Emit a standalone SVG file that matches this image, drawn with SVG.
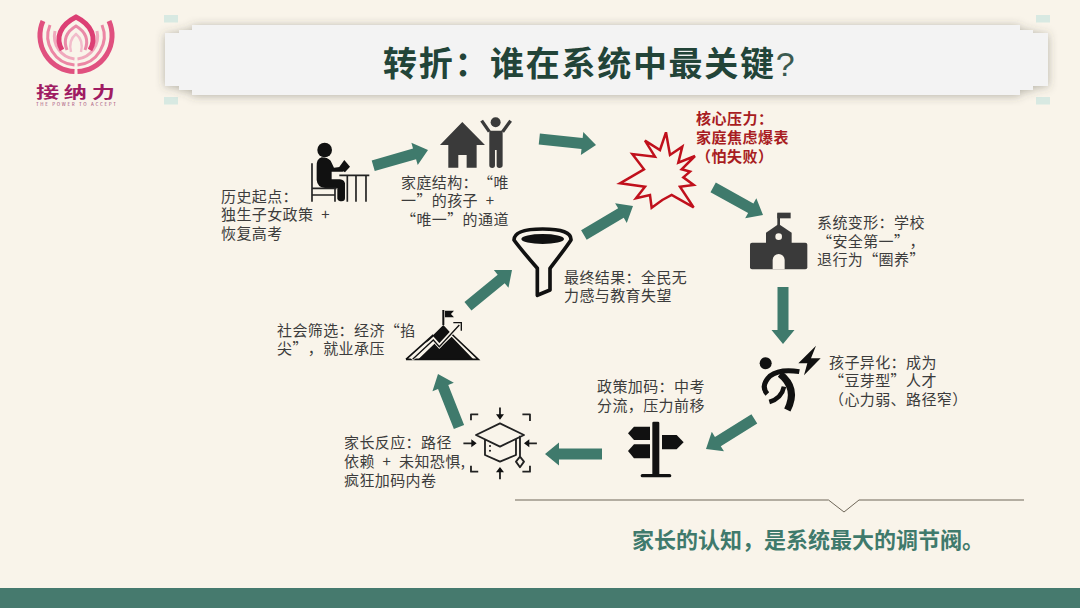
<svg xmlns="http://www.w3.org/2000/svg" xmlns:xlink="http://www.w3.org/1999/xlink" width="1080" height="608" viewBox="0 0 1080 608">
<defs>
<filter id="sh" x="-5%" y="-30%" width="110%" height="160%"><feDropShadow dx="0" dy="1" stdDeviation="5" flood-color="#4a4a3a" flood-opacity=".38"/></filter>
<polygon id="ah" points="-57,-5.500 -14,-5.500 -14,-11.500 0,0 -14,11.500 -14,5.500 -57,5.500"/>
</defs>
<style>
text{font-family:"Noto Sans CJK SC","Noto Sans",sans-serif;text-spacing-trim:space-all;font-kerning:none}
.t{font-size:15px;letter-spacing:.4px;word-spacing:4px;fill:#3c3c3c}
.r{font-size:15px;letter-spacing:.5px;fill:#a81c22;font-weight:700}
.a use{fill:#3f7a6c}
.d{fill:#3a3a3a}
.k{fill:#111}
.g{fill:none;stroke:#222;stroke-width:5.500;stroke-linecap:square;stroke-linejoin:round}
</style>
<rect width="1080" height="608" fill="#f9f4ea"/>
<rect y="588" width="1080" height="20" fill="#467a6e"/>

<g id="logo">
<g fill="none" stroke-linecap="butt">
<path d="M43,21 A36,36 0 0 0 74.500,71.500" stroke="#e0507f" stroke-width="5"/>
<path d="M109,21 A36,36 0 0 1 77.500,71.500" stroke="#e0507f" stroke-width="5"/>
<path d="M50,25 A29,29 0 0 0 74.500,65" stroke="#ec86a4" stroke-width="3"/>
<path d="M102,25 A29,29 0 0 1 77.500,65" stroke="#ec86a4" stroke-width="3"/>
<path d="M55,31 A23,23 0 0 0 74.500,59" stroke="#f0a9bd" stroke-width="3"/>
<path d="M97,31 A23,23 0 0 1 77.500,59" stroke="#f0a9bd" stroke-width="3"/>
<path d="M62,50 C55,38 60,25 76,17 C92,25 97,38 90,50" stroke="#dc3f74" stroke-width="5"/>
<path d="M67,50 C63,40 66,32 76,26 C86,32 89,40 85,50" stroke="#ea8aa8" stroke-width="3"/>
<path d="M71,52 C69,44 71,38 76,34 C81,38 83,44 81,52" stroke="#f2bccb" stroke-width="2.500"/>
</g>
<text transform="translate(36,98) scale(1.450,1)" font-size="16" font-weight="700" letter-spacing="3.200" fill="#a01c63">接纳力</text>
<text x="36" y="105.500" font-size="4.500" textLength="80" fill="#a0406f">THE POWER TO ACCEPT</text>
</g>

<g id="title">
<rect x="164" y="15" width="14" height="7.500" fill="#d8e9e2"/>
<rect x="164" y="97" width="14" height="7.500" fill="#d8e9e2"/>
<rect x="1036" y="15" width="14" height="7.500" fill="#d8e9e2"/>
<rect x="1036" y="97" width="14" height="7.500" fill="#d8e9e2"/>
<path filter="url(#sh)" d="M192,25 H1020 V30 H1033 V33 H1048 V86 H1033 V90 H1020 V95 H192 V90 H179 V86 H165 V33 H179 V30 H192Z" fill="#f3f3f3"/>
<text x="383" y="76" font-size="34" font-weight="700" letter-spacing="1.700" fill="#224438">转折：谁在系统中最关键<tspan font-family="Liberation Sans" font-weight="400" letter-spacing="0" fill="#3b5a50">?</tspan></text>
</g>

<g id="connectors" class="a">
<use href="#ah" transform="translate(428,150) rotate(-16)"/>
<use href="#ah" transform="translate(596,145) rotate(6)"/>
<use href="#ah" transform="translate(763,215) rotate(29)"/>
<use href="#ah" transform="translate(783,344) rotate(90)"/>
<use href="#ah" transform="translate(706,449) rotate(148)"/>
<use href="#ah" transform="translate(545,454) rotate(180)"/>
<use href="#ah" transform="translate(438,374) rotate(-111.600)"/>
<use href="#ah" transform="translate(512,270) rotate(-39.400)"/>
<use href="#ah" transform="translate(633,206) rotate(-30.500)"/>
</g>

<g id="n-origin">
<g transform="translate(210,100) scale(.3333)">
<circle cx="344" cy="150" r="22" class="k"/>
<path class="k" d="M335,172 Q318,178 320,200 L320,240 Q322,262 345,264 L382,264 L382,296 Q385,304 395,304 Q405,304 405,295 L405,250 Q403,240 390,238 L365,238 L365,215 L398,215 L405,210 L395,200 L372,203 L362,182 Q352,172 335,172Z"/>
<polygon class="k" points="385,205 403,180 420,200 405,217"/>
<path fill="none" stroke="#222" stroke-width="5" d="M306,190 V305 M306,265 H380 M306,285 H375 M375,265 V305 M388,226 H478 M412,226 V305 M438,226 V305 M468,226 V305"/>
</g>
<text class="t" x="221" y="202">历史起点：</text>
<text class="t" x="221" y="220">独生子女政策 +</text>
<text class="t" x="221" y="239">恢复高考</text>
</g>

<g id="n-family">
<g transform="translate(210,100) scale(.3333)">
<path class="d" d="M690,135 L757,66 L825,135 L800,135 L800,203 L770,203 L770,165 L745,165 L745,203 L715,203 L715,135Z"/>
<circle class="d" cx="857" cy="67" r="15"/>
<path class="d" d="M838,92 H878 V150 L878,196 Q878,204 868,204 Q860,204 860,196 V150 H855 V196 Q855,204 847,204 Q838,204 838,196Z"/>
<path d="M815,62 L838,95 M902,62 L878,95" stroke="#3a3a3a" stroke-width="10" fill="none"/>
</g>
<text class="t" x="401" y="188">家庭结构：“唯</text>
<text class="t" x="401" y="206">一”的孩子 +</text>
<text class="t" x="401" y="225">“唯一”的通道</text>
</g>

<g id="n-pressure">
<g transform="translate(500,100) scale(.3333)">
<polygon fill="#f9f4ea" stroke="#c0101c" stroke-width="7.500" points="360,250 432,208 397,162 465,170 435,122 480,150 498,97 510,165 547,140 535,188 585,168 545,208 570,215 550,232 581,255 540,260 581,322 515,285 487,300 455,323 450,285 408,295 435,260"/>
</g>
<text class="r" x="696" y="124">核心压力：</text>
<text class="r" x="696" y="143">家庭焦虑爆表</text>
<text class="r" x="696" y="162">（怕失败）</text>
</g>

<g id="n-school">
<g transform="translate(730,190) scale(.3333)">
<rect class="d" x="60" y="158" width="172" height="80" rx="6"/>
<polygon class="d" points="108,165 108,128 146,102 185,128 185,165"/>
<rect class="d" x="142" y="70" width="8" height="35"/>
<rect class="d" x="142" y="68" width="40" height="17"/>
<circle cx="146" cy="140" r="10" fill="#f9f4ea"/>
<path d="M128,238 V210 A18,18 0 0 1 164,210 V238Z" fill="#f9f4ea"/>
</g>
<text class="t" x="817" y="228">系统变形：学校</text>
<text class="t" x="817" y="247">“安全第一”，</text>
<text class="t" x="817" y="265">退行为“圈养”</text>
</g>

<g id="n-child">
<g transform="translate(730,190) scale(.3333)">
<circle class="k" cx="107" cy="520" r="18"/>
<path d="M208,545 Q150,535 120,558 Q90,588 112,612" fill="none" stroke="#111" stroke-width="15"/>
<path d="M150,552 Q205,595 172,660" fill="none" stroke="#111" stroke-width="21"/>
<path d="M162,590 Q155,625 118,636" fill="none" stroke="#111" stroke-width="14"/>
<polygon class="k" points="258,467 205,520 232,520 222,556 272,505 243,505"/>
</g>
<text class="t" x="829" y="368">孩子异化：成为</text>
<text class="t" x="829" y="386">“豆芽型”人才</text>
<text class="t" x="829" y="405">（心力弱、路径窄）</text>
</g>

<g id="n-policy">
<g transform="translate(530,370) scale(.3333)">
<rect class="k" x="367" y="155" width="21" height="160" rx="4"/>
<rect class="k" x="332" y="312" width="92" height="10" rx="5"/>
<polygon class="k" points="294,190 312,170 360,170 360,210 312,210"/>
<polygon class="k" points="294,243 312,223 360,223 360,265 312,265"/>
<polygon class="k" points="396,195 440,195 461,217 440,238 396,238"/>
</g>
<text class="t" x="597" y="392">政策加码：中考</text>
<text class="t" x="597" y="411">分流，压力前移</text>
</g>

<g id="n-parents">
<g transform="translate(270,260) scale(.3333)">
<path class="g" d="M618,525 L690,490 L762,525 L690,560Z M645,540 V585 L690,605 L738,585 V540 M750,530 V592 M738,605 L750,590 L762,605 L750,622Z"/>
<path class="g" stroke-width="7" stroke-linecap="butt" d="M603,478 V463 H622 M760,463 H780 V480 M603,620 V635 H622 M760,635 H780 V620 M690,445 V472 M690,655 V628 M583,550 H612 M798,550 H770"/>
<path class="k" d="M678,463 H702 L690,479Z M678,637 H702 L690,621Z M604,538 V562 L620,550Z M778,538 V562 L762,550Z"/>
<circle class="k" cx="660" cy="558" r="3"/><circle class="k" cx="660" cy="572" r="3"/>
</g>
<text class="t" x="344" y="448">家长反应：路径</text>
<text class="t" x="344" y="467">依赖 + 未知恐惧,</text>
<text class="t" x="344" y="486">疯狂加码内卷</text>
</g>

<g id="n-screen">
<g transform="translate(270,260) scale(.3333)">
<path d="M520,150 V195" stroke="#111" stroke-width="6" fill="none"/>
<polygon class="k" points="525,152 552,152 543,162 552,172 525,172"/>
<polygon class="k" points="445,298 495,250 508,265 545,230 610,298"/>
<polygon class="k" points="465,250 520,195 545,222 530,235 508,255 490,235"/>
<path d="M408,298 H625 L545,222 M408,298 L490,225" fill="none" stroke="#111" stroke-width="5"/>
<path d="M425,298 L490,238 L508,258 L565,197" fill="none" stroke="#f9f4ea" stroke-width="12"/>
<path d="M428,298 L490,240 L508,260 L568,195" fill="none" stroke="#111" stroke-width="4"/>
<path d="M550,188 H574 V212" fill="none" stroke="#111" stroke-width="4"/>
</g>
<text class="t" x="277" y="336">社会筛选：经济“掐</text>
<text class="t" x="277" y="354">尖”，就业承压</text>
</g>

<g id="n-result">
<g transform="translate(500,100) scale(.3333)">
<path d="M42,420 Q42,387 128,387 Q215,387 213,420 Q200,440 150,505 V570 L112,586 V505 Q60,445 42,420Z" fill="#f9f4ea" stroke="#111" stroke-width="11" stroke-linejoin="round"/>
<ellipse class="k" cx="128" cy="417" rx="64" ry="15"/>
</g>
<text class="t" x="564" y="283">最终结果：全民无</text>
<text class="t" x="564" y="301">力感与教育失望</text>
</g>

<g id="conclusion">
<path d="M515,500 H828.500 L844,512 L859,500 H1024" fill="none" stroke="#6e6658" stroke-width="1"/>
<text x="632" y="548" font-size="22" font-weight="700" fill="#3f7a6c">家长的认知，是系统最大的调节阀。</text>
</g>
</svg>
